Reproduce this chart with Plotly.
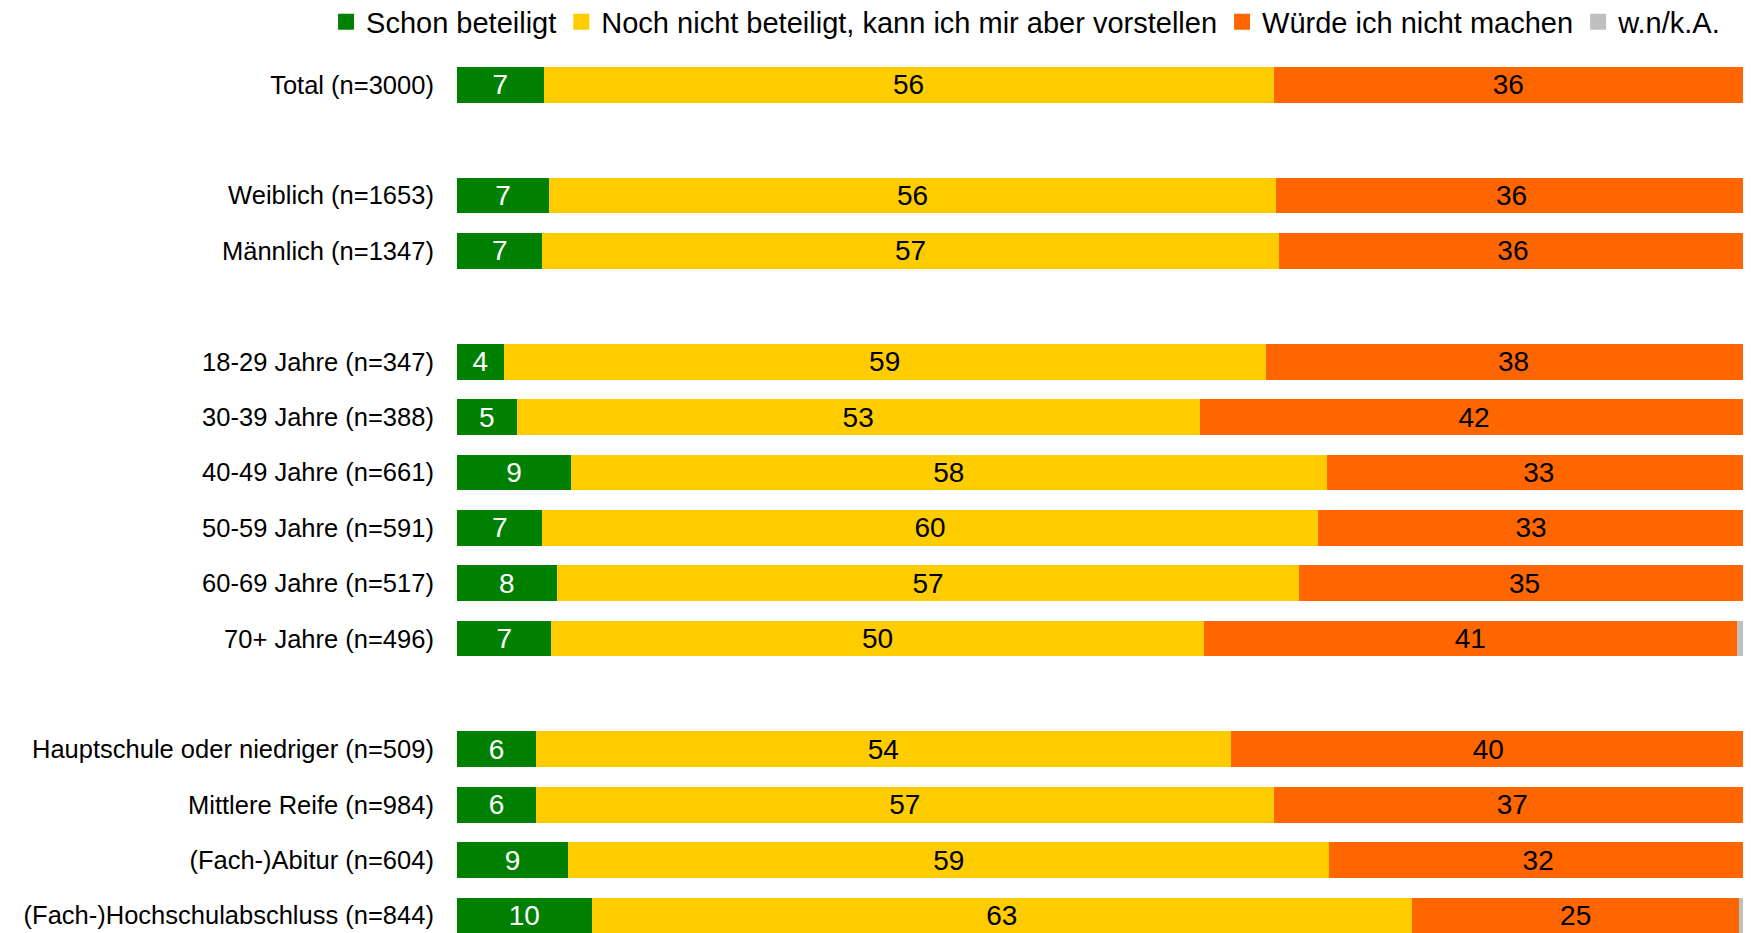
import plotly.graph_objects as go

# rows top to bottom, None = empty spacer row between groups
rows = [
    "Total (n=3000)",
    None,
    "Weiblich (n=1653)",
    "Männlich (n=1347)",
    None,
    "18-29 Jahre (n=347)",
    "30-39 Jahre (n=388)",
    "40-49 Jahre (n=661)",
    "50-59 Jahre (n=591)",
    "60-69 Jahre (n=517)",
    "70+ Jahre (n=496)",
    None,
    "Hauptschule oder niedriger (n=509)",
    "Mittlere Reife (n=984)",
    "(Fach-)Abitur (n=604)",
    "(Fach-)Hochschulabschluss (n=844)",
]

schon = [6.7, 7.1, 6.6, 3.6, 4.6, 8.8, 6.6, 7.7, 7.3, 6.1, 6.1, 8.6, 10.4]
noch = [56.4, 56.2, 56.9, 58.9, 52.8, 58.4, 59.9, 57.4, 50.4, 53.7, 57.0, 58.8, 63.4]
wuerde = [36.3, 36.4, 36.2, 38.3, 42.4, 32.8, 33.0, 34.8, 41.2, 39.8, 36.9, 32.3, 25.3]
wnka = [0.4, 0.2, 0.4, 0.0, 0.1, 0.0, 0.6, 0.1, 0.8, 0.4, 0.0, 0.4, 0.5]

series = [
    ("Schon beteiligt", schon, "#008000", "white"),
    ("Noch nicht beteiligt, kann ich mir aber vorstellen", noch, "#FFCC00", "black"),
    ("Würde ich nicht machen", wuerde, "#FF6600", "black"),
    ("w.n/k.A.", wnka, "#C0C0C0", None),
]

ypos = [i for i, r in enumerate(rows) if r is not None]
labels = [r for r in rows if r is not None]

FONT = "Liberation Sans, Arial, sans-serif"

fig = go.Figure()
for name, vals, color, txtcolor in series:
    fig.add_trace(go.Bar(
        name=name,
        y=ypos,
        x=vals,
        orientation="h",
        marker=dict(color=color, line=dict(width=0)),
        width=0.645,
        texttemplate="%{x:.0f}" if txtcolor else None,
        textposition="inside" if txtcolor else "none",
        insidetextanchor="middle",
        textangle=0,
        textfont=dict(color=txtcolor or "black", size=28, family=FONT),
        hoverinfo="name+x",
        showlegend=False,
    ))
    # legend entry with a larger square swatch
    fig.add_trace(go.Scatter(
        name=name,
        x=[None],
        y=[None],
        mode="markers",
        marker=dict(symbol="square", size=18, color=color),
        showlegend=True,
        hoverinfo="skip",
    ))

fig.update_layout(
    barmode="stack",
    width=1743,
    height=933,
    margin=dict(l=449, r=0, t=49, b=0, autoexpand=False),
    plot_bgcolor="white",
    paper_bgcolor="white",
    font=dict(family=FONT, size=25.5, color="black"),
    uniformtext=dict(minsize=28, mode="show"),
    showlegend=True,
    legend=dict(
        orientation="h",
        x=-0.1012, xanchor="left",
        y=1.0396, yanchor="middle",
        traceorder="normal",
        font=dict(size=29),
        itemwidth=30,
        itemsizing="trace",
        tracegroupgap=0,
        bgcolor="rgba(0,0,0,0)",
    ),
    xaxis=dict(range=[0, 100], visible=False, showgrid=False, zeroline=False),
    yaxis=dict(
        tickvals=ypos,
        ticktext=labels,
        range=[15.46, -0.5],
        showgrid=False,
        zeroline=False,
        ticks="outside",
        ticklen=17,
        tickcolor="rgba(0,0,0,0)",
    ),
)

fig.write_html("out.html")
